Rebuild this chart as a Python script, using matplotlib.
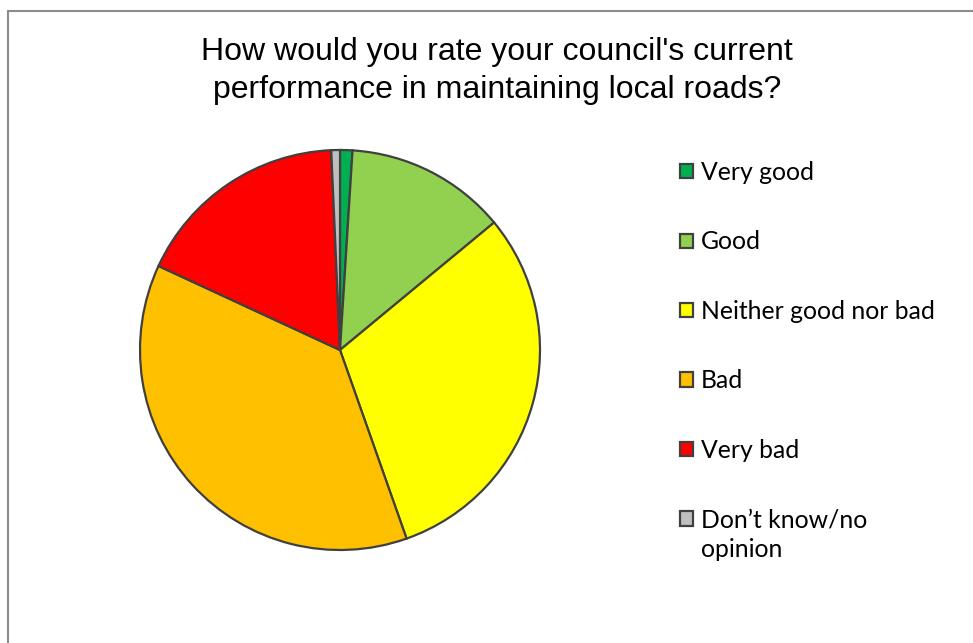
import matplotlib.pyplot as plt
from matplotlib.patches import Rectangle

# Survey responses (percent)
categories = ["Very good", "Good", "Neither good nor bad", "Bad", "Very bad",
              "Don\u2019t know/no opinion"]
values = [1.0, 13.0, 30.6, 37.3, 17.4, 0.7]
colors = ["#00B050", "#92D050", "#FFFF00", "#FFC000", "#FF0000", "#BFBFBF"]

title = "How would you rate your council's current\nperformance in maintaining local roads?"

W, H = 973, 643
fig = plt.figure(figsize=(W / 100, H / 100), dpi=100)

# chart area border (only top and left visible in the crop)
fig.patches.append(Rectangle((8 / W, -0.1), 1.1, (H - 11) / H + 0.1,
                             transform=fig.transFigure, fill=False,
                             edgecolor="#8c8c8c", linewidth=1.5))

ax = fig.add_axes([140 / W, (H - 550) / H, 400 / W, 400 / H])
wedges, _ = ax.pie(values, colors=colors, startangle=90, counterclock=False,
                   wedgeprops=dict(edgecolor="#404040", linewidth=1.6))
ax.set_xlim(-1.0, 1.0)
ax.set_ylim(-1.0, 1.0)
ax.set_aspect("equal")

fig.text(497 / W, 1 - 71 / H, title, ha="center", va="center",
         fontsize=23, family="Liberation Sans", linespacing=1.35)

# legend: last label wraps onto a second line in the original
labels = categories[:-1] + ["Don\u2019t know/no"]
leg = fig.legend(wedges, labels, loc="upper left",
                 bbox_to_anchor=(680 / W, 1 - 161 / H), frameon=False,
                 prop=dict(family="Lato", size=17.8),
                 borderpad=0, borderaxespad=0,
                 handlelength=0.52, handleheight=0.52, handletextpad=0.33,
                 labelspacing=1.88)

fig.canvas.draw()
last = leg.get_texts()[-1]
bb = last.get_window_extent()
fig.text(bb.x0 / W, (bb.y0 - 30) / H, "opinion", ha="left", va="bottom",
         family="Lato", size=17.8)

plt.savefig("out.png", dpi=100)
